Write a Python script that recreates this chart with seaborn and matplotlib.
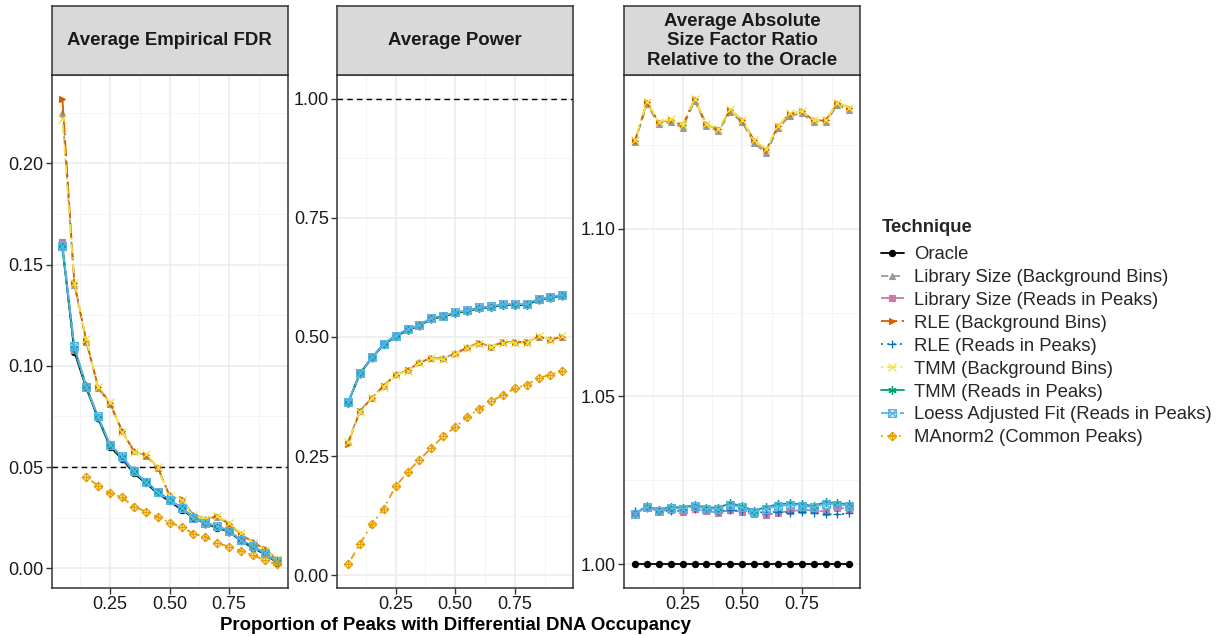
import numpy as np
import pandas as pd
import matplotlib
matplotlib.use('Agg')
import matplotlib.pyplot as plt
from matplotlib.lines import Line2D
from matplotlib.path import Path
import seaborn as sns

# --- Data ---
props = [0.05, 0.10, 0.15, 0.20, 0.25, 0.30, 0.35, 0.40, 0.45, 0.50,
         0.55, 0.60, 0.65, 0.70, 0.75, 0.80, 0.85, 0.90, 0.95]

techniques = ['Oracle', 'Library Size (Background Bins)', 'Library Size (Reads in Peaks)',
              'RLE (Background Bins)', 'RLE (Reads in Peaks)', 'TMM (Background Bins)',
              'TMM (Reads in Peaks)', 'Loess Adjusted Fit (Reads in Peaks)', 'MAnorm2 (Common Peaks)']

colors = ['#000000', '#999999', '#CC79A7', '#D55E00', '#0072B2', '#F0E442', '#009E73', '#56B4E9', '#E69F00']

# Average empirical FDR
fdr_oracle = [0.159, 0.107, 0.089, 0.074, 0.060, 0.054, 0.047, 0.042, 0.037, 0.033,
              0.029, 0.025, 0.022, 0.020, 0.018, 0.0135, 0.0100, 0.0070, 0.0028]
fdr_lib_bb = [0.225, 0.140, 0.112, 0.089, 0.081, 0.068, 0.058, 0.0555, 0.0495, 0.036,
              0.0335, 0.0265, 0.0245, 0.0255, 0.022, 0.017, 0.013, 0.0095, 0.0045]
fdr_lib_rip = [0.161, 0.108, 0.090, 0.0745, 0.0612, 0.0545, 0.0478, 0.0428, 0.0378, 0.0338,
               0.0297, 0.0255, 0.0222, 0.0205, 0.0182, 0.0140, 0.0106, 0.0075, 0.0030]
fdr_rle_bb = [0.232, 0.141, 0.1125, 0.0896, 0.0817, 0.0678, 0.0578, 0.056, 0.050, 0.0357,
              0.034, 0.0264, 0.024, 0.0257, 0.0218, 0.0168, 0.0128, 0.0093, 0.0045]
fdr_rle_rip = [0.159, 0.108, 0.0895, 0.0742, 0.0605, 0.0542, 0.0475, 0.0425, 0.0376, 0.0336,
               0.0296, 0.0252, 0.0221, 0.0203, 0.0181, 0.0138, 0.0103, 0.0073, 0.0029]
fdr_tmm_bb = [0.222, 0.141, 0.113, 0.0893, 0.082, 0.0675, 0.0575, 0.0562, 0.0498, 0.0355,
              0.0338, 0.0262, 0.0242, 0.0258, 0.0222, 0.0172, 0.0127, 0.0092, 0.0044]
fdr_tmm_rip = [0.158, 0.109, 0.0898, 0.0744, 0.0608, 0.0548, 0.0477, 0.0427, 0.0377, 0.0337,
               0.0298, 0.0253, 0.0223, 0.0204, 0.0183, 0.0139, 0.0105, 0.0074, 0.0031]
fdr_loess = [0.159, 0.110, 0.0895, 0.075, 0.061, 0.0555, 0.048, 0.0425, 0.0375, 0.0335,
             0.030, 0.025, 0.0225, 0.021, 0.0185, 0.014, 0.011, 0.0075, 0.0035]
fdr_manorm2 = [np.nan, np.nan, 0.045, 0.0408, 0.0371, 0.035, 0.0305, 0.028, 0.0254, 0.0226,
               0.0204, 0.0171, 0.0156, 0.0124, 0.0107, 0.0086, 0.0064, 0.004, 0.0019]

# Average power
pow_oracle = [0.362, 0.423, 0.456, 0.484, 0.501, 0.514, 0.524, 0.538, 0.543, 0.550,
              0.554, 0.560, 0.562, 0.567, 0.567, 0.567, 0.578, 0.582, 0.587]
pow_lib_bb = [0.280, 0.345, 0.373, 0.398, 0.422, 0.431, 0.447, 0.456, 0.455, 0.466,
              0.478, 0.488, 0.480, 0.489, 0.490, 0.489, 0.500, 0.495, 0.501]
pow_lib_rip = [0.363, 0.424, 0.457, 0.486, 0.503, 0.516, 0.525, 0.539, 0.544, 0.551,
               0.555, 0.561, 0.563, 0.568, 0.568, 0.569, 0.579, 0.583, 0.588]
pow_rle_bb = [0.276, 0.344, 0.372, 0.397, 0.421, 0.430, 0.446, 0.456, 0.454, 0.465,
              0.477, 0.487, 0.479, 0.489, 0.489, 0.489, 0.501, 0.494, 0.501]
pow_rle_rip = [0.362, 0.423, 0.456, 0.485, 0.502, 0.515, 0.524, 0.538, 0.543, 0.550,
               0.554, 0.560, 0.562, 0.567, 0.567, 0.568, 0.578, 0.582, 0.587]
pow_tmm_bb = [0.279, 0.343, 0.371, 0.396, 0.421, 0.429, 0.445, 0.455, 0.453, 0.464,
              0.476, 0.486, 0.478, 0.488, 0.488, 0.488, 0.502, 0.494, 0.502]
pow_tmm_rip = [0.362, 0.424, 0.457, 0.485, 0.502, 0.515, 0.525, 0.539, 0.544, 0.551,
               0.555, 0.561, 0.563, 0.568, 0.568, 0.568, 0.579, 0.583, 0.588]
pow_loess = [0.363, 0.424, 0.457, 0.486, 0.503, 0.516, 0.526, 0.540, 0.545, 0.552,
             0.556, 0.562, 0.564, 0.569, 0.569, 0.569, 0.580, 0.584, 0.589]
pow_manorm2 = [0.023, 0.066, 0.107, 0.140, 0.187, 0.216, 0.243, 0.267, 0.292, 0.311,
               0.332, 0.349, 0.365, 0.378, 0.392, 0.400, 0.414, 0.421, 0.428]

# Average absolute size factor ratio relative to the oracle
sf_oracle = [1.0] * 19
sf_lib_bb = [1.1258, 1.1370, 1.1310, 1.1318, 1.1300, 1.1380, 1.1305, 1.1290, 1.1346, 1.1316,
             1.1255, 1.1224, 1.1298, 1.1336, 1.1343, 1.1316, 1.1316, 1.1368, 1.1352]
sf_lib_rip = [1.0154, 1.0169, 1.0159, 1.0162, 1.0157, 1.0164, 1.0159, 1.0154, 1.0162, 1.0156,
              1.0149, 1.0147, 1.0154, 1.0159, 1.0161, 1.0162, 1.0157, 1.0169, 1.0166]
sf_rle_bb = [1.1262, 1.1376, 1.1316, 1.1324, 1.1307, 1.1386, 1.1310, 1.1295, 1.1354, 1.1322,
             1.1263, 1.1233, 1.1305, 1.1342, 1.1349, 1.1322, 1.1322, 1.1374, 1.1359]
sf_rle_rip = [1.0159, 1.0169, 1.0162, 1.0159, 1.0162, 1.0164, 1.0164, 1.0159, 1.0162, 1.0159,
              1.0157, 1.0154, 1.0157, 1.0154, 1.0156, 1.0154, 1.0149, 1.0149, 1.0152]
sf_tmm_bb = [1.1263, 1.1377, 1.1317, 1.1325, 1.1308, 1.1387, 1.1311, 1.1296, 1.1355, 1.1323,
             1.1264, 1.1236, 1.1306, 1.1343, 1.1350, 1.1323, 1.1323, 1.1375, 1.1360]
sf_tmm_rip = [1.0149, 1.0174, 1.0162, 1.0172, 1.0169, 1.0177, 1.0169, 1.0169, 1.0182, 1.0174,
              1.0159, 1.0171, 1.0179, 1.0182, 1.0179, 1.0174, 1.0186, 1.0182, 1.0179]
sf_loess = [1.0151, 1.0172, 1.0160, 1.0168, 1.0166, 1.0173, 1.0166, 1.0165, 1.0177, 1.0170,
            1.0156, 1.0166, 1.0174, 1.0177, 1.0175, 1.0170, 1.0181, 1.0178, 1.0175]
sf_manorm2 = [np.nan] * 19

panel_titles = ['Average Empirical FDR', 'Average Power',
                'Average Absolute\nSize Factor Ratio\nRelative to the Oracle']

metric_series = [
    [fdr_oracle, fdr_lib_bb, fdr_lib_rip, fdr_rle_bb, fdr_rle_rip, fdr_tmm_bb, fdr_tmm_rip, fdr_loess, fdr_manorm2],
    [pow_oracle, pow_lib_bb, pow_lib_rip, pow_rle_bb, pow_rle_rip, pow_tmm_bb, pow_tmm_rip, pow_loess, pow_manorm2],
    [sf_oracle, sf_lib_bb, sf_lib_rip, sf_rle_bb, sf_rle_rip, sf_tmm_bb, sf_tmm_rip, sf_loess, sf_manorm2],
]
ref_lines = [0.05, 1.0, None]
y_ticks = [[0.0, 0.05, 0.10, 0.15, 0.20], [0.0, 0.25, 0.50, 0.75, 1.00], [1.00, 1.05, 1.10]]
y_minor = [[0.025, 0.075, 0.125, 0.175, 0.225], [0.125, 0.375, 0.625, 0.875], [1.025, 1.075, 1.125]]
x_ticks = [0.25, 0.50, 0.75]
x_minor = [0.125, 0.375, 0.625, 0.875]

# --- Marker shapes like ggplot's 7 (square cross) and 9 (diamond plus) ---
square_cross = Path.make_compound_path(
    Path([(-1, -1), (1, -1), (1, 1), (-1, 1), (-1, -1)], closed=True),
    Path([(-1, -1), (1, 1)]), Path([(-1, 1), (1, -1)]))
diamond_plus = Path.make_compound_path(
    Path([(0, -1), (1, 0), (0, 1), (-1, 0), (0, -1)], closed=True),
    Path([(-1, 0), (1, 0)]), Path([(0, -1), (0, 1)]))

markers = ['o', '^', 's', '>', '+', 'x', (6, 2, 0), square_cross, diamond_plus]
dashes = ['', (4, 2.5), (6, 2), (9, 2.5), (1, 2.5), (1, 2.5, 5, 2.5), '', (9, 1.5), (1, 2.5, 4, 2.5)]
marker_size = [4.5, 5, 5, 5, 6, 6, 6, 5.5, 6]
filled = [True, True, True, True, False, False, False, False, False]

sns.set_theme(style='white')
plt.rcParams['font.family'] = ['Liberation Sans', 'DejaVu Sans']

W, H = 1223, 636
fig = plt.figure(figsize=(W / 100, H / 100), dpi=100)

panel_left = [51.7, 337.3, 624.3]
panel_w = 235.8
panel_top, panel_bot = 75.3, 587.7
strip_top = 6.3


def marker_kws(k):
    if filled[k]:
        return dict(marker=markers[k], markersize=marker_size[k], markerfacecolor=colors[k],
                    markeredgecolor=colors[k], markeredgewidth=0.8)
    return dict(marker=markers[k], markersize=marker_size[k], markerfacecolor='none',
                markeredgecolor=colors[k], markeredgewidth=0.95)


for i in range(3):
    ax = fig.add_axes([panel_left[i] / W, 1 - panel_bot / H, panel_w / W, (panel_bot - panel_top) / H])
    ax.set_facecolor('white')
    ax.set_axisbelow(True)

    for k, (tech, vals) in enumerate(zip(techniques, metric_series[i])):
        df = pd.DataFrame({'prop': props, 'value': vals}).dropna()
        if df.empty:
            continue
        ls = (0, dashes[k]) if dashes[k] else '-'
        sns.lineplot(data=df, x='prop', y='value', color=colors[k], linestyle=ls,
                     estimator=None, errorbar=None, linewidth=1.3, ax=ax,
                     zorder=3 + k, **marker_kws(k))

    if ref_lines[i] is not None:
        ax.axhline(ref_lines[i], color='black', linestyle=(0, (4, 3)), linewidth=1.0, zorder=2)

    allv = np.concatenate([np.array(v, dtype=float) for v in metric_series[i]])
    ymin, ymax = np.nanmin(allv), np.nanmax(allv)
    if ref_lines[i] is not None:
        ymin, ymax = min(ymin, ref_lines[i]), max(ymax, ref_lines[i])
    pad = (ymax - ymin) * 0.05
    ax.set_ylim(ymin - pad, ymax + pad)
    ax.set_xlim(0.05 - 0.045, 0.95 + 0.045)

    ax.set_xticks(x_ticks)
    ax.set_xticklabels(['0.25', '0.50', '0.75'])
    ax.set_xticks(x_minor, minor=True)
    ax.set_yticks(y_ticks[i])
    ax.set_yticklabels(['%.2f' % t for t in y_ticks[i]])
    ax.set_yticks(y_minor[i], minor=True)
    ax.grid(which='major', color='#EBEBEB', linewidth=1.1)
    ax.grid(which='minor', color='#F3F3F3', linewidth=0.6)
    ax.tick_params(axis='both', which='major', length=4, width=1.0, color='#333333',
                   labelsize=13, labelcolor='#1A1A1A', pad=2, direction='out',
                   bottom=True, left=True)
    ax.tick_params(axis='both', which='minor', length=0)
    ax.set_xlabel('')
    ax.set_ylabel('')
    for s in ax.spines.values():
        s.set_color('#333333')
        s.set_linewidth(1.1)

    # facet strip
    sax = fig.add_axes([panel_left[i] / W, 1 - panel_top / H, panel_w / W, (panel_top - strip_top) / H])
    sax.set_facecolor('#D9D9D9')
    sax.set_xticks([])
    sax.set_yticks([])
    for s in sax.spines.values():
        s.set_color('#333333')
        s.set_linewidth(1.1)
    sax.text(0.5, 0.5, panel_titles[i], ha='center', va='center', fontsize=13.4, fontweight='bold',
             color='#1A1A1A', linespacing=1.2, transform=sax.transAxes)

fig.text(456 / W, 1 - 625 / H, 'Proportion of Peaks with Differential DNA Occupancy',
         ha='center', va='center', fontsize=13.4, fontweight='bold', color='black')

handles = [Line2D([0], [0], color=colors[k], linestyle=(0, dashes[k]) if dashes[k] else '-',
                  linewidth=1.3, **marker_kws(k)) for k in range(len(techniques))]
leg = fig.legend(handles, techniques, title='Technique', loc='upper left',
                 bbox_to_anchor=(874 / W, 1 - 212 / H), frameon=False, fontsize=13.3,
                 title_fontproperties={'weight': 'bold', 'size': 13.3},
                 handlelength=1.2, handletextpad=0.55, labelspacing=0.32, borderaxespad=0)
leg._legend_box.align = 'left'
leg._legend_box.sep = 7

fig.savefig('out.png', dpi=100)
